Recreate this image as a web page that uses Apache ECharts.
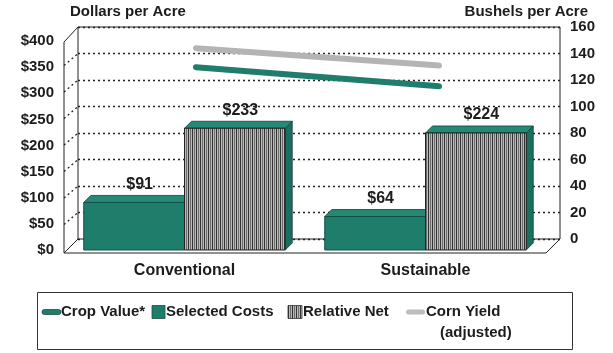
<!DOCTYPE html>
<html><head><meta charset="utf-8">
<script src="https://cdn.jsdelivr.net/npm/echarts@6/dist/echarts.min.js"></script>
<style>html,body{margin:0;padding:0;background:#fff}#c{width:613px;height:353px}</style>
</head><body><div id="c"></div>
<script>
const categories = ['Conventional', 'Sustainable'];
const selectedCosts = [91, 64];
const relativeNet = [233, 224];
const cropValue = [324, 288];
const cornYield = [144, 131];
const dollarTicks = { min: 0, max: 400, interval: 50 };
const bushelTicks = { min: 0, max: 160, interval: 20 };

const FONT = '"Liberation Sans", Arial, sans-serif';
const TXT = '#1c1c1c';
const GREEN = '#1f7d6b', GREEN_TOP = '#258a75', GREEN_SIDE = '#1b6f5f';
const BACK = { l: 78, r: 560, t: 27, b: 239 };
const DX = 14, DY = 14;
const BDX = 7, BDY = 7;

function stripes() {
  const c = document.createElement('canvas'); c.width = 4; c.height = 4;
  const g = c.getContext('2d');
  g.fillStyle = '#b9b9b9'; g.fillRect(0, 0, 4, 4);
  g.fillStyle = '#333333'; g.fillRect(0, 0, 1, 4);
  g.fillStyle = '#6e6e6e'; g.fillRect(2, 0, 1, 4);
  return c;
}
const STRIPE = { image: stripes(), repeat: 'repeat' };

function barRender(side, front) {
  return function (params, api) {
    const cat = api.value(0), v = api.value(1);
    const p = api.coord([cat, v]), p0 = api.coord([cat, 0]);
    const band = api.size([1, 0])[0];
    const bw = band * 0.418;
    const x = side === 0 ? p[0] - bw : p[0];
    const top = p[1], bot = p0[1];
    return {
      type: 'group', children: [
        { type: 'polygon', shape: { points: [[x + bw, top], [x + bw + BDX, top - BDY], [x + bw + BDX, bot - BDY], [x + bw, bot]] },
          style: { fill: GREEN_SIDE, stroke: '#123f36', lineWidth: 0.8 } },
        { type: 'polygon', shape: { points: [[x, top], [x + BDX, top - BDY], [x + bw + BDX, top - BDY], [x + bw, top]] },
          style: { fill: GREEN_TOP, stroke: '#123f36', lineWidth: 0.8 } },
        { type: 'rect', shape: { x: x, y: top, width: bw, height: bot - top },
          style: { fill: front, stroke: side === 0 ? '#164f44' : '#222', lineWidth: 1 } },
        { type: 'text', style: { text: '$' + v, x: x + bw / 2 + BDX / 2 + 2, y: top - BDY - 3, align: 'center', verticalAlign: 'bottom',
          font: 'bold 16px ' + FONT, fill: TXT } }
      ]
    };
  };
}

const chart = echarts.init(document.getElementById('c'));
const FRONT = { l: BACK.l - DX, r: BACK.r - DX, t: 41, b: 250 };
chart.setOption({
  animation: false,
  grid: [
    { left: FRONT.l, right: 613 - FRONT.r, top: FRONT.t, bottom: 353 - FRONT.b },
    { left: BACK.l, right: 613 - BACK.r, top: BACK.t, bottom: 353 - BACK.b, show: true, borderColor: '#222', borderWidth: 1, backgroundColor: 'transparent' },
    { left: 196, right: 613 - 439, top: BACK.t, bottom: 353 - BACK.b }
  ],
  xAxis: [
    { gridIndex: 0, type: 'category', data: categories, axisLine: { show: false }, axisTick: { show: false },
      axisLabel: { margin: 13, color: TXT, fontFamily: FONT, fontWeight: 'bold', fontSize: 16 } },
    { gridIndex: 1, type: 'category', data: categories, show: false },
    { gridIndex: 2, type: 'category', data: categories, show: false, boundaryGap: false }
  ],
  yAxis: [
    { gridIndex: 0, type: 'value', min: dollarTicks.min, max: dollarTicks.max, interval: dollarTicks.interval,
      axisLine: { show: false }, axisTick: { show: false }, splitLine: { show: false },
      axisLabel: { margin: 10, color: TXT, fontFamily: FONT, fontWeight: 'bold', fontSize: 15, formatter: '${value}' } },
    { gridIndex: 1, type: 'value', position: 'right', min: bushelTicks.min, max: bushelTicks.max, interval: bushelTicks.interval,
      axisLine: { show: false }, axisTick: { show: false },
      splitLine: { show: true, lineStyle: { color: '#222', width: 1.3, type: [2, 3] } },
      axisLabel: { margin: 10, color: TXT, fontFamily: FONT, fontWeight: 'bold', fontSize: 15 } },
    { gridIndex: 2, type: 'value', min: dollarTicks.min, max: dollarTicks.max, show: false, splitLine: { show: false } },
    { gridIndex: 2, type: 'value', min: bushelTicks.min, max: bushelTicks.max, show: false, splitLine: { show: false } }
  ],
  series: [
    { name: 'Selected Costs', type: 'custom', xAxisIndex: 0, yAxisIndex: 0, renderItem: barRender(0, GREEN),
      data: categories.map((c, i) => [i, selectedCosts[i]]), z: 3 },
    { name: 'Relative Net', type: 'custom', xAxisIndex: 0, yAxisIndex: 0, renderItem: barRender(1, STRIPE),
      data: categories.map((c, i) => [i, relativeNet[i]]), z: 3 },
    { name: 'Corn Yield (adjusted)', type: 'line', xAxisIndex: 2, yAxisIndex: 3, data: cornYield, symbol: 'none',
      lineStyle: { color: '#b4b4b4', width: 6, cap: 'round' }, z: 4 },
    { name: 'Crop Value*', type: 'line', xAxisIndex: 2, yAxisIndex: 2, data: cropValue, symbol: 'none',
      lineStyle: { color: GREEN, width: 6, cap: 'round' }, z: 5 }
  ]
});

const g = [];
const L = (x1, y1, x2, y2, dashed) => g.push({ type: 'line', shape: { x1, y1, x2, y2 }, z: 1,
  style: { stroke: '#222', lineWidth: dashed ? 1.3 : 1, lineDash: dashed ? [2, 3] : null } });
L(BACK.l - DX, BACK.t + DY + 1, BACK.l, BACK.t);
L(BACK.l - DX, BACK.t + DY + 1, BACK.l - DX, BACK.b + DY);
L(BACK.l - DX, BACK.b + DY, BACK.r - DX, BACK.b + DY);
L(BACK.l - DX, BACK.b + DY, BACK.l, BACK.b);
L(BACK.r - DX, BACK.b + DY, BACK.r, BACK.b);
for (let v = bushelTicks.interval; v < bushelTicks.max; v += bushelTicks.interval) {
  const y = chart.convertToPixel({ yAxisIndex: 1 }, v);
  L(BACK.l - DX, y + DY - 2, BACK.l, y, true);
}
const T = (text, x, y, align, size) => g.push({ type: 'text', z: 10,
  style: { text, x, y, align: align || 'left', verticalAlign: 'middle', font: 'bold ' + (size || 15) + 'px ' + FONT, fill: TXT } });
T('Dollars per Acre', 70, 12);
T('Bushels per Acre', 588, 12, 'right');
g.push({ type: 'rect', shape: { x: 37.5, y: 292.5, width: 535, height: 57 }, style: { fill: 'none', stroke: '#333', lineWidth: 1 } });
const LY = 312;
g.push({ type: 'rect', shape: { x: 42, y: LY - 2.5, width: 19, height: 5, r: 2.5 }, style: { fill: GREEN, stroke: '#1a4f45', lineWidth: 0.8 } });
T('Crop Value*', 61, LY);
g.push({ type: 'rect', shape: { x: 152, y: LY - 6.5, width: 13, height: 13 }, style: { fill: GREEN, stroke: '#1a4f45', lineWidth: 0.8 } });
T('Selected Costs', 166, LY);
g.push({ type: 'rect', shape: { x: 288, y: LY - 6.5, width: 14, height: 13 }, style: { fill: STRIPE, stroke: '#333', lineWidth: 0.8 } });
T('Relative Net', 303, LY);
g.push({ type: 'rect', shape: { x: 406, y: LY - 2.5, width: 19, height: 5, r: 2.5 }, style: { fill: '#bdbdbd' } });
T('Corn Yield', 426, LY);
T('(adjusted)', 440, LY + 21);
chart.setOption({ graphic: g });
</script></body></html>
